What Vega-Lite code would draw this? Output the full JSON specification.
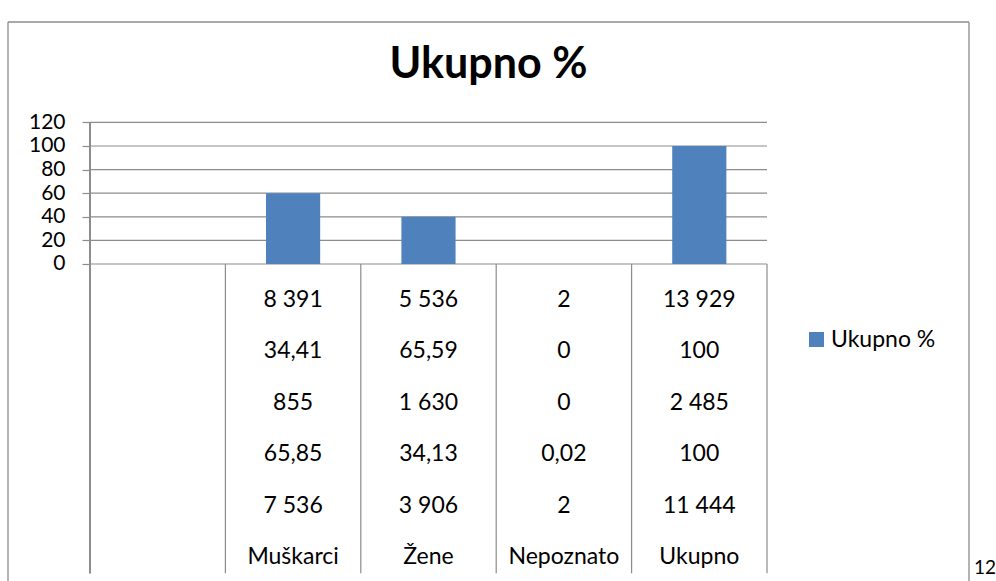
{
  "$schema": "https://vega.github.io/schema/vega-lite/v6.json",
  "width": 961,
  "height": 559,
  "autosize": {"type": "none"},
  "padding": {"left": 8, "top": 22, "right": 27, "bottom": 0},
  "background": "white",
  "config": {"view": {"stroke": null}, "font": "Lato"},
  "title": {"text": "Ukupno %", "font": "Lato", "fontSize": 43, "fontWeight": "bold", "color": "#000000", "anchor": "middle", "frame": "group", "offset": -66},
  "datasets": {
    "kategorije": [
      {"kategorija": " ", "serija": "Ukupno %", "postotak": null, "1": "", "2": "", "3": "", "4": "", "5": "", "6": ""},
      {"kategorija": "Muškarci", "serija": "Ukupno %", "postotak": 60, "1": "8 391", "2": "34,41", "3": "855", "4": "65,85", "5": "7 536", "6": "Muškarci"},
      {"kategorija": "Žene", "serija": "Ukupno %", "postotak": 40, "1": "5 536", "2": "65,59", "3": "1 630", "4": "34,13", "5": "3 906", "6": "Žene"},
      {"kategorija": "Nepoznato", "serija": "Ukupno %", "postotak": 0, "1": "2", "2": "0", "3": "0", "4": "0,02", "5": "2", "6": "Nepoznato"},
      {"kategorija": "Ukupno", "serija": "Ukupno %", "postotak": 100, "1": "13 929", "2": "100", "3": "2 485", "4": "100", "5": "11 444", "6": "Ukupno"}
    ],
    "mreza": [{"v": 0}, {"v": 20}, {"v": 40}, {"v": 60}, {"v": 80}, {"v": 100}, {"v": 120}],
    "stranica": [{"broj": "12"}]
  },
  "layer": [
    {
      "data": {"name": "stranica"},
      "layer": [
        {
          "mark": {"type": "rule", "color": "#8c8c8c", "strokeWidth": 1.3},
          "encoding": {
            "x": {"datum": 0, "type": "quantitative", "scale": {"domain": [0, 1], "nice": false, "zero": false}, "axis": null},
            "y": {"datum": 0, "type": "quantitative", "scale": {"domain": [0, 1], "nice": false, "zero": false}, "axis": null},
            "y2": {"datum": 1}
          }
        },
        {
          "mark": {"type": "rule", "color": "#8c8c8c", "strokeWidth": 1.3},
          "encoding": {
            "x": {"datum": 1, "type": "quantitative"},
            "y": {"datum": 0, "type": "quantitative"},
            "y2": {"datum": 1}
          }
        },
        {
          "mark": {"type": "rule", "color": "#8c8c8c", "strokeWidth": 1.3},
          "encoding": {
            "x": {"datum": 0, "type": "quantitative"},
            "x2": {"datum": 1},
            "y": {"datum": 1, "type": "quantitative"}
          }
        },
        {
          "mark": {"type": "text", "align": "left", "baseline": "alphabetic", "dx": 5, "dy": -7, "fontSize": 19, "font": "Lato", "color": "#000000"},
          "encoding": {
            "x": {"datum": 1, "type": "quantitative"},
            "y": {"datum": 0, "type": "quantitative"},
            "text": {"field": "broj"}
          }
        }
      ]
    },
    {
      "data": {"name": "kategorije"},
      "layer": [
        {
          "data": {"name": "mreza"},
          "mark": {"type": "rule", "color": "#8c8c8c", "strokeWidth": 1.2},
          "encoding": {
            "x": {"datum": " ", "type": "nominal", "bandPosition": 0, "scale": {"type": "band", "domain": [" ", "Muškarci", "Žene", "Nepoznato", "Ukupno", "legenda"], "paddingInner": 0, "paddingOuter": 0.5487, "align": 0.5518}, "axis": null},
            "x2": {"datum": "Ukupno", "bandPosition": 1},
            "y": {"field": "v", "type": "quantitative", "scale": {"domain": [-268.64, 205.08], "nice": false, "zero": false}, "axis": null}
          }
        },
        {
          "mark": {"type": "bar", "width": {"band": 0.4}},
          "encoding": {
            "x": {"field": "kategorija", "type": "nominal", "axis": null},
            "y": {
              "field": "postotak", "type": "quantitative",
              "scale": {"domain": [-268.64, 205.08], "nice": false, "zero": false},
              "axis": {"values": [0, 20, 40, 60, 80, 100, 120], "orient": "left", "offset": -82, "domain": false, "grid": false, "ticks": true, "tickSize": 8, "tickColor": "#8c8c8c", "tickWidth": 1.2, "labelFont": "Lato", "labelFontSize": 21, "labelColor": "#000000", "labelPadding": 17, "labelFlush": false, "labelOverlap": false, "title": null}
            },
            "color": {
              "field": "serija", "type": "nominal",
              "scale": {"range": ["#4F81BD"]},
              "legend": {"orient": "none", "legendX": 797, "legendY": 306, "title": null, "symbolType": "square", "symbolSize": 225, "symbolStrokeWidth": 0, "labelFont": "Lato", "labelFontSize": 23, "labelColor": "#000000", "labelOffset": 3, "padding": 0}
            }
          }
        },
        {
          "mark": {"type": "rule", "color": "#8c8c8c", "strokeWidth": 1.2},
          "encoding": {
            "x": {"field": "kategorija", "type": "nominal", "bandPosition": 1},
            "y": {"datum": 0, "type": "quantitative", "scale": {"domain": [-268.64, 205.08], "nice": false, "zero": false}, "axis": null},
            "y2": {"datum": -262}
          }
        },
        {
          "mark": {"type": "rule", "color": "#8c8c8c", "strokeWidth": 1.2},
          "encoding": {
            "x": {"datum": " ", "type": "nominal", "bandPosition": 0},
            "y": {"datum": 120, "type": "quantitative", "scale": {"domain": [-268.64, 205.08], "nice": false, "zero": false}, "axis": null},
            "y2": {"datum": -262}
          }
        },
        {
          "transform": [{"fold": ["1", "2", "3", "4", "5", "6"], "as": ["red", "vrijednost"]}],
          "mark": {"type": "text", "font": "Lato", "fontSize": 23, "color": "#000000", "baseline": "middle", "align": "center"},
          "encoding": {
            "x": {"field": "kategorija", "type": "nominal"},
            "y": {"field": "red", "type": "quantitative", "scale": {"domain": [-4.409, 6.466], "reverse": true, "nice": false, "zero": false}, "axis": null},
            "text": {"field": "vrijednost"}
          }
        }
      ],
      "resolve": {"scale": {"y": "independent"}}
    }
  ],
  "resolve": {"scale": {"x": "independent", "y": "independent"}}
}
